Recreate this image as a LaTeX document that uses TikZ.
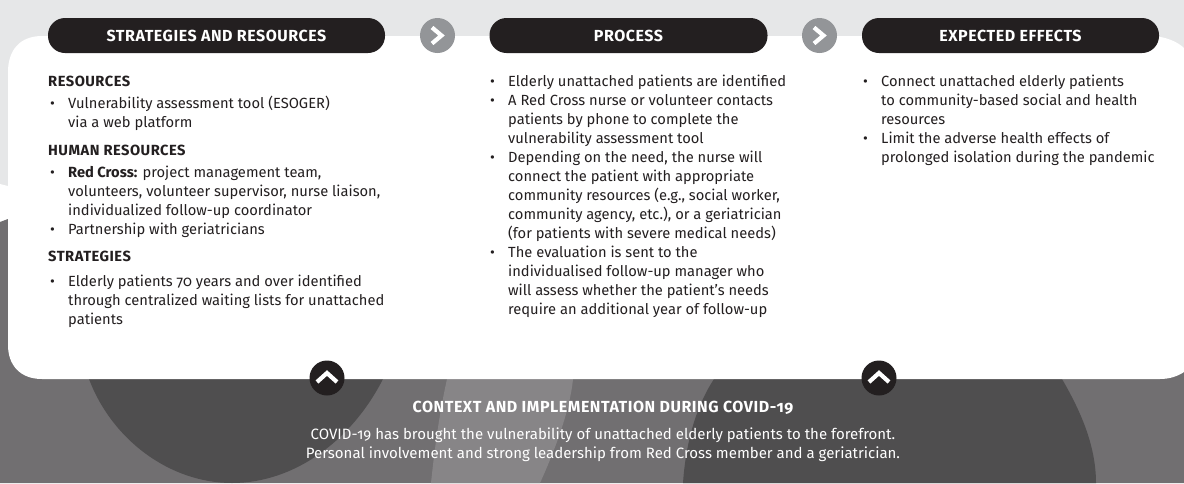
\documentclass[tikz,border=0pt]{standalone}
\usepackage{fontspec}
\setmainfont[Numbers=OldStyle]{Fira Sans}
\newfontfamily\capsfont[Numbers=OldStyle,LetterSpace=3.4]{Fira Sans}
\definecolor{lightbg}{HTML}{E6E7E8}
\definecolor{midbg}{HTML}{716F71}
\definecolor{palebg}{HTML}{878587}
\definecolor{darkbg}{HTML}{4F4E4F}
\definecolor{inkdark}{HTML}{231F20}
\definecolor{arrowgrey}{HTML}{939598}
\newcommand{\bul}{\makebox[18pt][l]{•}}
\newcommand{\ind}{\hspace*{18pt}}
\newcommand{\capsb}[1]{{\capsfont\bfseries #1}}
\tikzset{
  headbar/.style={fill=inkdark,rounded corners=17pt,minimum height=35pt,text=white,font=\fontsize{16}{18}\selectfont,inner sep=0pt},
  bodytext/.style={anchor=north west,inner sep=0pt,align=left,text=inkdark,font=\fontsize{14.7}{19}\selectfont},
  roundbtn/.style={circle,minimum size=35pt,inner sep=0pt},
  chevron/.style={white,line width=4.2pt},
}
\begin{document}
\begin{tikzpicture}[x=1pt,y=-1pt]
\useasboundingbox (0,0) rectangle (1184,483);
\fill[lightbg] (0,0) rectangle (1184,483);
\fill[white] (0,184) -- (8,186) -- (8,219) -- (0,222) -- cycle;
\fill[midbg] (0,222) -- (8,219) -- (1184,219) -- (1184,483) -- (0,483) -- cycle;
\fill[palebg] (447,379) .. controls (438,420) and (434,455) .. (431,483) -- (540,483) .. controls (555,450) and (570,410) .. (573,379) -- cycle;
\fill[darkbg] (89,379) .. controls (112,440) and (170,483) .. (232,483) .. controls (295,483) and (352,440) .. (383,379) -- cycle;
\fill[darkbg] (683,483) .. controls (686,440) and (697,405) .. (714,379) -- (1062,379) .. controls (1080,410) and (1096,445) .. (1096,483) -- cycle;
\fill[white] (8,72) .. controls (8,50) and (20,36) .. (42,36) -- (1150,36) .. controls (1165,36) and (1178,42) .. (1184,48) -- (1184,372) .. controls (1178,376) and (1170,379) .. (1160,379) -- (42,379) .. controls (20,379) and (8,365) .. (8,345) -- cycle;
\node[headbar,minimum width=337pt] (h1) at (216.5,35.5) {\raisebox{-1pt}{\capsb{STRATEGIES AND RESOURCES}}};
\node[headbar,minimum width=278pt] (h2) at (628.5,35.5) {\raisebox{-1pt}{\capsb{PROCESS}}};
\node[headbar,minimum width=297pt] (h3) at (1010.5,35.5) {\raisebox{-1pt}{\capsb{EXPECTED EFFECTS}}};
\node[roundbtn,fill=arrowgrey] (a1) at (437.5,35.5) {};
\node[roundbtn,fill=arrowgrey] (a2) at (819.5,35.5) {};
\node[roundbtn,fill=inkdark] (u1) at (327,378) {};
\node[roundbtn,fill=inkdark] (u2) at (879,378) {};
\draw[chevron] (432,27.5) -- (441.5,35.5) -- (432,43.5);
\draw[chevron] (814,27.5) -- (823.5,35.5) -- (814,43.5);
\draw[chevron] (317,382) -- (327,373) -- (337,382);
\draw[chevron] (869,382) -- (879,373) -- (889,382);
\node[bodytext] (resh) at (48,75.5) {\capsb{RESOURCES}};
\node[bodytext] (res) at (50,96) {\bul Vulnerability assessment tool (ESOGER)\\\ind via a web platform};
\node[bodytext] (humh) at (48,144.5) {\capsb{HUMAN RESOURCES}};
\node[bodytext] (hum) at (50,166) {\bul\textbf{Red Cross:} project management team,\\\ind volunteers, volunteer supervisor, nurse liaison,\\\ind individualized follow-up coordinator\\\bul Partnership with geriatricians};
\node[bodytext] (strh) at (48,250.5) {\capsb{STRATEGIES}};
\node[bodytext] (str) at (50,275) {\bul Elderly patients 70 years and over identified\\\ind through centralized waiting lists for unattached\\\ind patients};
\node[bodytext] (proc) at (490,75) {\bul Elderly unattached patients are identified\\\bul A Red Cross nurse or volunteer contacts\\\ind patients by phone to complete the\\\ind vulnerability assessment tool\\\bul Depending on the need, the nurse will\\\ind connect the patient with appropriate\\\ind community resources (e.g., social worker,\\\ind community agency, etc.), or a geriatrician\\\ind (for patients with severe medical needs)\\\bul The evaluation is sent to the\\\ind individualised follow-up manager who\\\ind will assess whether the patient’s needs\\\ind require an additional year of follow-up};
\node[bodytext] (eff) at (863,75) {\bul Connect unattached elderly patients\\\ind to community-based social and health\\\ind resources\\\bul Limit the adverse health effects of\\\ind prolonged isolation during the pandemic};
\node[anchor=center,text=white,inner sep=0pt,font=\fontsize{16}{18}\selectfont] (ctxh) at (603,408) {\capsb{CONTEXT AND IMPLEMENTATION DURING COVID-19}};
\node[anchor=center,align=center,text=white,inner sep=0pt,font=\fontsize{15}{19}\selectfont] (ctx) at (603,445) {COVID-19 has brought the vulnerability of unattached elderly patients to the forefront.\\Personal involvement and strong leadership from Red Cross member and a geriatrician.};
\end{tikzpicture}
\end{document}
